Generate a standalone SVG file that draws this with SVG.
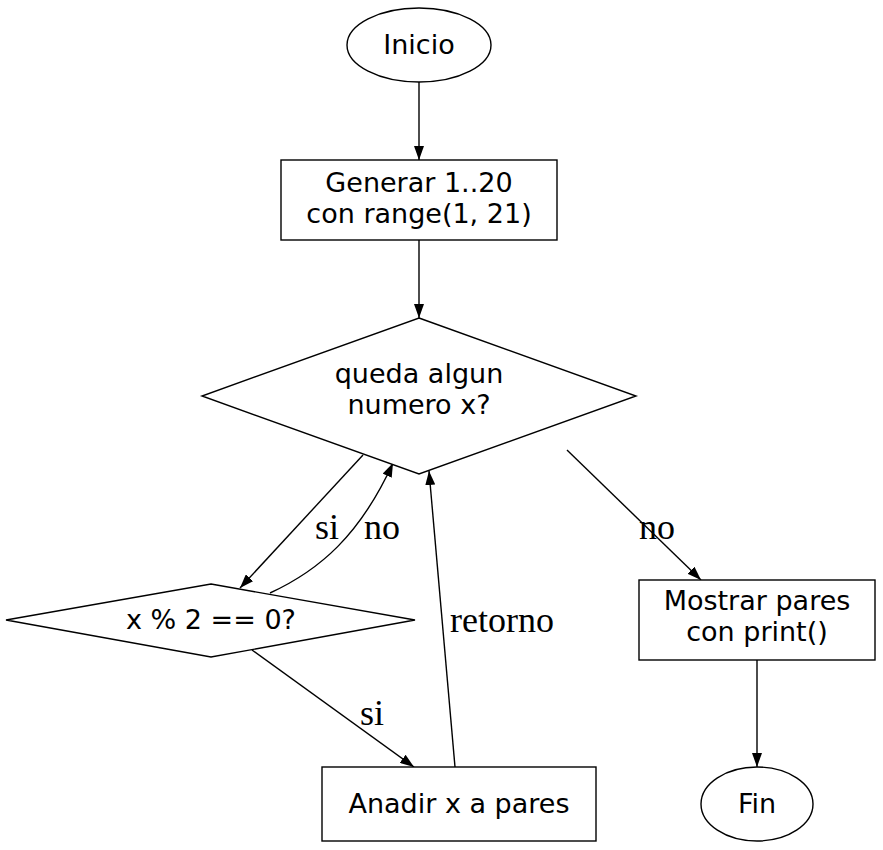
<svg xmlns="http://www.w3.org/2000/svg" width="883" height="850" viewBox="0 0 883 850">
<style>
.n{fill:#fff;stroke:#000;stroke-width:1.4}
.t{font-family:"DejaVu Sans",sans-serif;font-size:27px;text-anchor:middle}
.l{font-family:"Liberation Serif",serif;font-size:36px;text-anchor:middle}
.e{fill:none;stroke:#000;stroke-width:1.4}
</style>
<defs><marker id="a" markerWidth="14" markerHeight="10" refX="14" refY="5" orient="auto" markerUnits="userSpaceOnUse" viewBox="0 0 14 10"><path d="M0,0L14,5L0,10z" fill="#000"/></marker></defs>
<rect width="883" height="850" fill="#fff"/>
<g id="connectors">
<path class="e" d="M419,82V160" marker-end="url(#a)"/>
<path class="e" d="M419,240V318" marker-end="url(#a)"/>
<path class="e" d="M363,455L240,588" marker-end="url(#a)"/>
<path class="e" d="M270,593C320,570 360,535 393,463" marker-end="url(#a)"/>
<path class="e" d="M455,767L429,471" marker-end="url(#a)"/>
<path class="e" d="M567,450L701,580" marker-end="url(#a)"/>
<path class="e" d="M252,650L414,767" marker-end="url(#a)"/>
<path class="e" d="M757,660V767" marker-end="url(#a)"/>
<text class="l" x="327" y="539">si</text>
<text class="l" x="382" y="539">no</text>
<text class="l" x="502" y="632">retorno</text>
<text class="l" x="657" y="539">no</text>
<text class="l" x="372" y="725">si</text>
</g>
<g id="inicio"><ellipse class="n" cx="419" cy="45" rx="72" ry="37"/><text class="t" x="419" y="54">Inicio</text></g>
<g id="generar"><rect class="n" x="281" y="160" width="276" height="80"/><text class="t" x="419" y="192">Generar 1..20</text><text class="t" x="419" y="223">con range(1, 21)</text></g>
<g id="queda"><polygon class="n" points="419,318 636,396 419,474 202,396"/><text class="t" x="419" y="383">queda algun</text><text class="t" x="419" y="414">numero x?</text></g>
<g id="mod"><polygon class="n" points="211,584 415,620 211,657 6,620"/><text class="t" x="211" y="629">x % 2 == 0?</text></g>
<g id="anadir"><rect class="n" x="322" y="767" width="274" height="74"/><text class="t" x="459" y="813">Anadir x a pares</text></g>
<g id="mostrar"><rect class="n" x="639" y="580" width="236" height="80"/><text class="t" x="757" y="610">Mostrar pares</text><text class="t" x="757" y="641">con print()</text></g>
<g id="fin"><ellipse class="n" cx="757" cy="804" rx="56" ry="37"/><text class="t" x="757" y="813">Fin</text></g>
</svg>
